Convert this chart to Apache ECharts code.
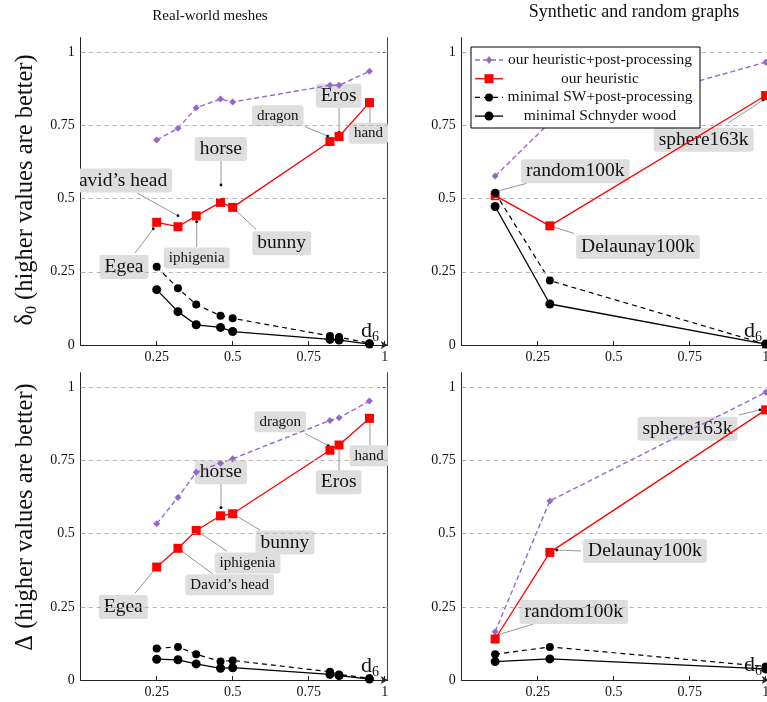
<!DOCTYPE html>
<html><head><meta charset="utf-8">
<script src="https://cdn.jsdelivr.net/npm/echarts@6/dist/echarts.min.js"></script>
<style>html,body{margin:0;padding:0;background:#fff}#c{width:767px;height:702px}</style>
</head><body><div id="c"></div><script>
// ---------- data ----------
const seriesNames = ['our heuristic+post-processing', 'our heuristic', 'minimal SW+post-processing', 'minimal Schnyder wood'];
const panelTitles = ['Real-world meshes', 'Synthetic and random graphs'];
const xTickValues = [0.25, 0.5, 0.75, 1];
const yTickValues = [0, 0.25, 0.5, 0.75, 1];

const meshNames = ['Egea', 'David\u2019s head', 'iphigenia', 'horse', 'bunny', 'dragon', 'Eros', 'hand'];
const meshX = [0.25, 0.32, 0.38, 0.46, 0.50, 0.82, 0.85, 0.95];
const synthNames = ['random100k', 'Delaunay100k', 'sphere163k'];
const synthX = [0.11, 0.29, 1.0];

// delta_0 (top row)
const meshPurpleD0 = [0.70, 0.74, 0.81, 0.84, 0.83, 0.887, 0.887, 0.935];
const meshRedD0 = [0.419, 0.404, 0.441, 0.487, 0.47, 0.695, 0.712, 0.828];
const meshDashD0 = [0.267, 0.194, 0.138, 0.10, 0.091, 0.031, 0.027, 0.006];
const meshSolidD0 = [0.189, 0.114, 0.069, 0.06, 0.046, 0.019, 0.017, 0.003];
const synthPurpleD0 = [0.577, 0.76, 0.966];
const synthRedD0 = [0.51, 0.407, 0.852];
const synthDashD0 = [0.52, 0.22, 0.003];
const synthSolidD0 = [0.473, 0.14, 0.003];
// Delta (bottom row)
const meshPurpleD = [0.534, 0.624, 0.71, 0.741, 0.756, 0.887, 0.896, 0.953];
const meshRedD = [0.386, 0.45, 0.511, 0.561, 0.568, 0.785, 0.803, 0.894];
const meshDashD = [0.108, 0.113, 0.088, 0.063, 0.067, 0.028, 0.019, 0.006];
const meshSolidD = [0.071, 0.069, 0.055, 0.040, 0.042, 0.019, 0.015, 0.003];
const synthPurpleD = [0.165, 0.612, 0.983];
const synthRedD = [0.14, 0.436, 0.923];
const synthDashD = [0.088, 0.113, 0.046];
const synthSolidD = [0.063, 0.072, 0.038];

// ---------- layout / style ----------
const FONT = 'Liberation Serif, serif';
const PURPLE = '#9569c9';
const BOX = '#dedede';
const LBIG = 19.5, LSMALL = 15;

// annotation layout: b = box centre offset, a = leader anchor, d = dot offset (px from data point), s = size
const layoutTL = [
  {b:[-32.7,44.7], a:[-21.7,30.7], d:[-3.4,6.4], s:LBIG},
  {b:[-62,-46.2], a:[-41,-33.7], d:[0,-11], s:LBIG},
  {b:[0.5,42.1], a:[0.5,31], d:[0.5,5.8], s:LSMALL},
  {b:[0.3,-53.4], a:[0.5,-41.7], d:[0.5,-17.4], s:LBIG},
  {b:[49,35.9], a:[23.3,21.9], d:[0,0], s:LBIG},
  {b:[-52.2,-25.8], a:[-25,-14.8], d:[-2.3,-5.5], s:LSMALL},
  {b:[-0.4,-40.7], a:[0,-29.2], d:[0,-4.2], s:LBIG},
  {b:[-1,30.7], a:[0.5,20.7], d:[0.5,-3.3], s:LSMALL},
  {b:[0.5,-13]}
];
const layoutBL = [
  {b:[-33.4,40], a:[-21.7,26.3], d:[0,0], s:LBIG},
  {b:[51.7,36.4], a:[35.3,26], d:[0,0], s:LSMALL},
  {b:[51.3,32.6], a:[30.5,20.6], d:[0,0], s:LSMALL},
  {b:[0.3,-43.6], a:[0.5,-32.5], d:[0.5,-8.1], s:LBIG},
  {b:[52.3,28.8], a:[27.3,16.3], d:[0,0], s:LBIG},
  {b:[-49.7,-28.5], a:[-25,-16.9], d:[-1.7,-4.5], s:LSMALL},
  {b:[-0.4,37.2], a:[0,26], d:[0,0], s:LBIG},
  {b:[-0.3,37.5], a:[0.5,27.7], d:[0.5,2.7], s:LSMALL},
  {b:[0.5,-13]}
];
const layoutTR = [
  {b:[80.2,-24.4], a:[31.6,-12.4], d:[0,-4], s:LBIG},
  {b:[88.1,21.2], a:[24.1,7.5], d:[0,0], s:LBIG},
  {b:[-62,44.2], a:[-37.4,27.2], d:[-2.4,4.5], s:LBIG},
  {b:[-12.7,-12.5]}
];
const layoutBR = [
  {b:[78.7,-27], a:[38.2,-15], d:[0,-3.3], s:LBIG},
  {b:[95.1,-1.4], a:[31.1,-1.4], d:[6.8,-2.4], s:LBIG},
  {b:[-78.2,18.9], a:[-26.7,5.2], d:[-5.7,0], s:LBIG},
  {b:[-12.7,-3.5]}
];

const panels = [
  {xs: meshX, vals: [meshPurpleD0, meshRedD0, meshDashD0, meshSolidD0], names: meshNames, layout: layoutTL},
  {xs: synthX, vals: [synthPurpleD0, synthRedD0, synthDashD0, synthSolidD0], names: synthNames, layout: layoutTR},
  {xs: meshX, vals: [meshPurpleD, meshRedD, meshDashD, meshSolidD], names: meshNames, layout: layoutBL},
  {xs: synthX, vals: [synthPurpleD, synthRedD, synthDashD, synthSolidD], names: synthNames, layout: layoutBR}
];
const gridBoxes = [
  {left: 80.7, top: 37.6, width: 307, height: 307.4},
  {left: 461.7, top: 37.6, width: 307, height: 307.4},
  {left: 80.7, top: 372.7, width: 307, height: 307.3},
  {left: 461.7, top: 372.7, width: 307, height: 307.3}
];
const lineStyles = [
  {color: PURPLE, width: 1.4, type: [5, 3], symbol: 'diamond', size: 7},
  {color: '#ff0000', width: 1.3, type: 'solid', symbol: 'rect', size: 9},
  {color: '#000', width: 1.2, type: [5, 4], symbol: 'circle', size: 8},
  {color: '#000', width: 1.3, type: 'solid', symbol: 'circle', size: 9}
];

const grid = gridBoxes.map(g => Object.assign({outerBoundsMode: 'none', containLabel: false}, g));
const axisLineCol = '#222';
const xAxis = gridBoxes.map((g, i) => ({
  type: 'value', gridIndex: i, min: 0, max: 1.01,
  axisLine: {show: true, onZero: false, lineStyle: {color: axisLineCol, width: 1}, symbol: ['none', 'arrow'], symbolSize: [6, 7]},
  axisTick: {show: true, inside: true, length: 4, customValues: xTickValues, lineStyle: {color: axisLineCol}},
  axisLabel: {customValues: xTickValues, fontFamily: FONT, fontSize: 14, color: '#111', margin: 5, formatter: v => String(v)},
  splitLine: {show: false}
}));
const yAxis = gridBoxes.map((g, i) => ({
  type: 'value', gridIndex: i, min: 0, max: 1.05, position: 'left',
  axisLine: {show: true, onZero: false, lineStyle: {color: axisLineCol, width: 1}},
  axisTick: {show: true, inside: true, length: 4, customValues: yTickValues, lineStyle: {color: axisLineCol}},
  axisLabel: {customValues: yTickValues, fontFamily: FONT, fontSize: 14, color: '#111', margin: 6, formatter: v => String(v)},
  splitLine: {show: false}
}));
[0, 2].forEach(i => yAxis.push({
  type: 'value', gridIndex: i, min: 0, max: 1.05, position: 'right',
  axisLine: {show: true, onZero: false, lineStyle: {color: '#444', width: 1}},
  axisTick: {show: true, inside: true, length: 5, customValues: yTickValues.filter(v => v > 0), lineStyle: {color: '#444'}},
  axisLabel: {show: false}, splitLine: {show: false}
}));

const series = [];
panels.forEach((p, pi) => {
  // grid lines
  series.push({
    type: 'line', xAxisIndex: pi, yAxisIndex: pi, data: [], z: 0, silent: true,
    markLine: {silent: true, symbol: ['none', 'none'], label: {show: false}, animation: false,
      lineStyle: {color: '#b4b4b4', type: [4, 4], width: 1},
      data: yTickValues.filter(v => v > 0).map(v => ({yAxis: v}))}
  });
  // annotations
  const adata = p.names.map((n, i) => ({value: [p.xs[i], p.vals[1][i], i]}));
  const last = p.xs.length - 1;
  adata.push({value: [p.xs[last], p.vals[3][last], p.names.length]});
  series.push({
    type: 'custom', xAxisIndex: pi, yAxisIndex: pi, clip: true, z: 1, silent: true, data: adata,
    renderItem: function (params, api) {
      const k = api.value(2);
      const L = p.layout[k];
      const pt = api.coord([api.value(0), api.value(1)]);
      if (k === p.names.length) {
        return {type: 'text', x: pt[0] + L.b[0], y: pt[1] + L.b[1], style: {
          text: '{d|d}{s|6}', align: 'center', verticalAlign: 'middle', fill: '#111',
          rich: {d: {fontFamily: FONT, fontSize: 22, lineHeight: 26, fill: '#111'},
                 s: {fontFamily: FONT, fontSize: 14, lineHeight: 12, verticalAlign: 'bottom', fill: '#111'}}}};
      }
      const dot = [pt[0] + L.d[0], pt[1] + L.d[1]];
      const anc = [pt[0] + L.a[0], pt[1] + L.a[1]];
      return {type: 'group', children: [
        {type: 'line', shape: {x1: dot[0], y1: dot[1], x2: anc[0], y2: anc[1]}, style: {stroke: '#8a8a8a', lineWidth: 0.9}},
        {type: 'circle', shape: {cx: dot[0], cy: dot[1], r: 1.4}, style: {fill: '#000'}},
        {type: 'text', x: pt[0] + L.b[0], y: pt[1] + L.b[1], style: {
          text: p.names[k], fontFamily: FONT, fontSize: L.s, fill: '#111', align: 'center', verticalAlign: 'middle',
          backgroundColor: BOX, padding: L.s > 16 ? [2, 5, 2, 5] : [3, 5, 3, 5], borderRadius: 3}}
      ]};
    }
  });
  // data series
  p.vals.forEach((vals, si) => {
    const st = lineStyles[si];
    series.push({
      type: 'line', name: seriesNames[si], xAxisIndex: pi, yAxisIndex: pi, z: 2 + si,
      data: p.xs.map((x, i) => [x, vals[i]]),
      symbol: st.symbol, symbolSize: st.size, showSymbol: true,
      lineStyle: {color: st.color, width: st.width, type: st.type},
      itemStyle: {color: st.color, borderWidth: 0},
      emphasis: {disabled: true}
    });
  });
});

// legend (drawn) + titles
const graphic = [];
const LX = 471, LY = 47;
graphic.push({type: 'rect', z: 100, shape: {x: LX, y: LY, width: 229, height: 81}, style: {fill: '#fff', stroke: '#000', lineWidth: 1}});
seriesNames.forEach((name, r) => {
  const st = lineStyles[r];
  const y = 60 + r * 18.7;
  graphic.push({type: 'line', z: 101, shape: {x1: 475, y1: y, x2: 503, y2: y},
    style: {stroke: st.color, lineWidth: st.width, lineDash: Array.isArray(st.type) ? st.type : null}});
  const cx = 489;
  if (st.symbol === 'diamond') graphic.push({type: 'polygon', z: 102, shape: {points: [[cx, y - 4], [cx + 3, y], [cx, y + 4], [cx - 3, y]]}, style: {fill: st.color}});
  else if (st.symbol === 'rect') graphic.push({type: 'rect', z: 102, shape: {x: cx - 4.5, y: y - 4.5, width: 9, height: 9}, style: {fill: st.color}});
  else graphic.push({type: 'circle', z: 102, shape: {cx: cx, cy: y, r: st.size / 2}, style: {fill: st.color}});
  graphic.push({type: 'text', z: 102, x: 600, y: y, style: {text: name, fontFamily: FONT, fontSize: 15.5, fill: '#111', align: 'center', verticalAlign: 'middle'}});
});
graphic.push({type: 'text', x: 210, y: 16, style: {text: panelTitles[0], fontFamily: FONT, fontSize: 15, fill: '#111', align: 'center', verticalAlign: 'middle'}});
graphic.push({type: 'text', x: 634, y: 12, style: {text: panelTitles[1], fontFamily: FONT, fontSize: 18, fill: '#111', align: 'center', verticalAlign: 'middle'}});
const titleRich = {m: {fontFamily: FONT, fontSize: 24.5, lineHeight: 28, fill: '#111'},
                   s: {fontFamily: FONT, fontSize: 16, lineHeight: 12, verticalAlign: 'bottom', fill: '#111'}};
graphic.push({type: 'text', x: 26, y: 190, rotation: Math.PI / 2, style: {text: '{m|\u03b4}{s|0}{m| (higher values are better)}', align: 'center', verticalAlign: 'middle', rich: titleRich}});
graphic.push({type: 'text', x: 26, y: 517, rotation: Math.PI / 2, style: {text: '{m|\u0394 (higher values are better)}', align: 'center', verticalAlign: 'middle', rich: titleRich}});

const chart = echarts.init(document.getElementById('c'), null, {renderer: 'canvas'});
chart.setOption({animation: false, backgroundColor: '#fff', grid, xAxis, yAxis, series, graphic, legend: {show: false}, tooltip: {show: false}});
</script></body></html>
